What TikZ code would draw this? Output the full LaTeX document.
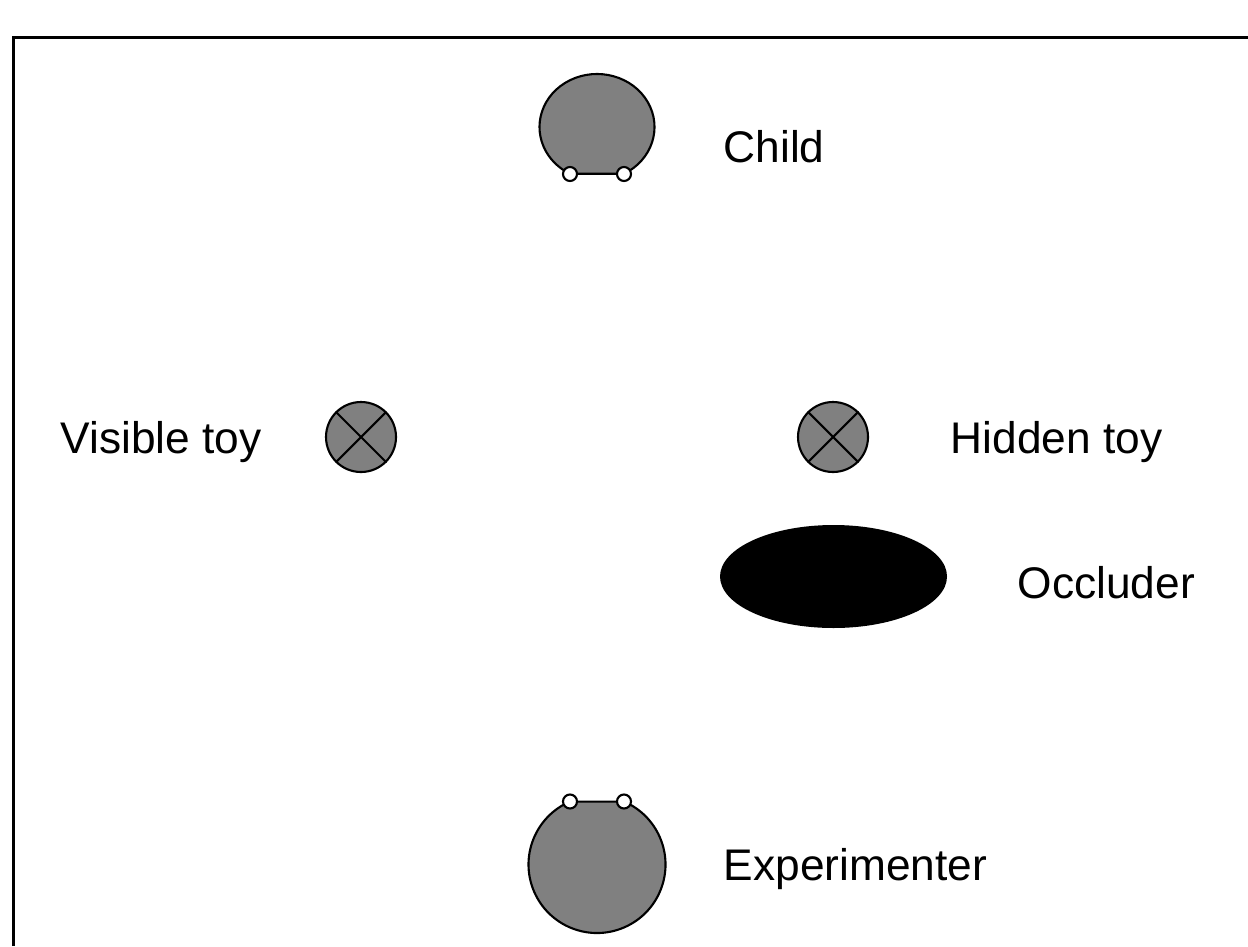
\documentclass[tikz,border=0pt]{standalone}
\usepackage{fontspec}
\setmainfont{Liberation Sans}
\usetikzlibrary{shapes.geometric}

\begin{document}
\begin{tikzpicture}[
		label/.style={anchor=base west, inner sep=0pt, font=\fontsize{12.6}{15}\selectfont},
		toy/.style={circle, draw, fill=gray, line width=0.6pt, minimum size=0.70cm, inner sep=0pt},
		head/.style={draw, fill=gray, line width=0.6pt},
		eye/.style={draw, fill=white, line width=0.6pt}
	]
	
		\useasboundingbox (0,0) rectangle (12.48,9.46);
		\draw[line width=0.85pt] (0.138,0) -- (0.138,9.083) -- (12.48,9.083);
		
		% child at the top
		\draw[head] (5.97,8.19) ++(-62:0.575 and 0.53) arc[start angle=-62, end angle=242, x radius=0.575, y radius=0.53] -- cycle;
		\foreach \x in {5.70,6.24}{
			\draw[eye] (\x,7.72) circle (0.07);
		}
		\node[label] (child) at (7.23,7.83) {Child};
		
		% toys
		\node[toy] (vis) at (3.61,5.09) {};
		\node[toy] (hid) at (8.33,5.09) {};
		\foreach \t in {vis,hid}{
			\draw[line width=0.6pt] (\t.45) -- (\t.225) (\t.135) -- (\t.315);
		}
		\node[label] (vislabel) at (0.60,4.93) {Visible toy};
		\node[label] (hidlabel) at (9.50,4.93) {Hidden toy};
		
		% occluder
		\node[ellipse, fill=black, minimum width=2.27cm, minimum height=1.03cm, inner sep=0pt] (occ) at (8.335,3.695) {};
		\node[label] (occlabel) at (10.17,3.48) {Occluder};
		
		% experimenter at the bottom
		\draw[head] (5.97,0.815) ++(113.2:0.685) arc[start angle=113.2, end angle=426.8, radius=0.685] -- cycle;
		\foreach \x in {5.70,6.24}{
			\draw[eye] (\x,1.445) circle (0.07);
		}
		\node[label] (exp) at (7.23,0.66) {Experimenter};

	\end{tikzpicture}
\end{document}
